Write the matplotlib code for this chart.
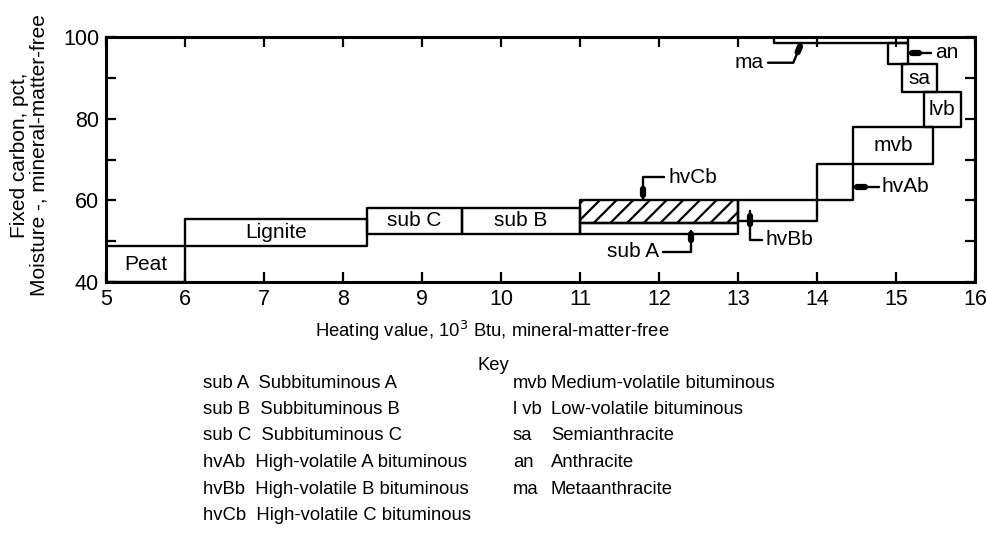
import matplotlib
matplotlib.use('Agg')
import matplotlib.pyplot as plt
from matplotlib.patches import Rectangle

plt.rcParams['font.family'] = ['Liberation Sans', 'DejaVu Sans']
plt.rcParams['hatch.linewidth'] = 1.6

# rank fields: heating value range (10^3 Btu) and fixed carbon range (pct)
rank_names = ['Peat', 'Lignite', 'sub C', 'sub B', 'sub A', 'hvCb', 'hvBb',
              'hvAb', 'mvb', 'lvb', 'sa', 'an', 'ma']
heat_lo = [5.0, 6.0, 8.3, 9.5, 11.0, 11.0, 13.0, 14.0, 14.45, 15.35, 15.08, 14.9, 13.45]
heat_hi = [6.0, 8.3, 9.5, 11.0, 13.0, 13.0, 14.0, 14.45, 15.47, 15.82, 15.52, 15.15, 15.15]
fc_lo = [40.0, 48.8, 51.8, 51.8, 51.8, 54.5, 55.0, 60.0, 68.9, 78.0, 86.6, 93.3, 98.5]
fc_hi = [48.8, 55.4, 58.1, 58.1, 54.5, 60.1, 60.1, 68.9, 78.0, 86.6, 93.3, 98.5, 100.0]
boxed_labels = ['Peat', 'Lignite', 'sub C', 'sub B', 'mvb', 'lvb', 'sa']

# callouts for the fields too small to carry their own label
callout_names = ['ma', 'an', 'hvAb', 'hvBb', 'sub A', 'hvCb']
callout_text_xy = [(13.32, 93.7), (15.5, 96.1), (14.82, 63.3), (13.35, 50.3),
                   (11.67, 47.4), (12.12, 65.7)]
callout_paths = [
    [(13.38, 93.7), (13.7, 93.7), (13.8, 98.4)],
    [(15.44, 96.1), (15.16, 96.1)],
    [(14.78, 63.3), (14.46, 63.3)],
    [(13.3, 50.3), (13.15, 50.3), (13.15, 57.3)],
    [(12.05, 47.4), (12.4, 47.4), (12.4, 52.5)],
    [(12.06, 65.7), (11.8, 65.7), (11.8, 60.4)],
]
callout_ha = ['right', 'left', 'left', 'left', 'center', 'left']

key_left = [('sub A', 'Subbituminous A'), ('sub B', 'Subbituminous B'),
            ('sub C', 'Subbituminous C'), ('hvAb', 'High-volatile A bituminous'),
            ('hvBb', 'High-volatile B bituminous'), ('hvCb', 'High-volatile C bituminous')]
key_right = [('mvb', 'Medium-volatile bituminous'), ('l vb', 'Low-volatile bituminous'),
             ('sa', 'Semianthracite'), ('an', 'Anthracite'), ('ma', 'Metaanthracite')]

W, H = 986, 537
fig = plt.figure(figsize=(W / 100, H / 100), dpi=100)
ax = fig.add_axes([106 / W, 1 - 282 / H, (975 - 106) / W, (282 - 37) / H])

for name, x0, x1, y0, y1 in zip(rank_names, heat_lo, heat_hi, fc_lo, fc_hi):
    hatch = '//' if name == 'hvCb' else None
    ax.add_patch(Rectangle((x0, y0), x1 - x0, y1 - y0, fill=False, ec='black',
                           lw=1.7, hatch=hatch, joinstyle='round'))
    if name in boxed_labels:
        ax.text((x0 + x1) / 2, (y0 + y1) / 2, name, ha='center', va='center',
                fontsize=15)

for name, (tx, ty), path, ha in zip(callout_names, callout_text_xy, callout_paths, callout_ha):
    ax.text(tx, ty, name, ha=ha, va='center', fontsize=15)
    xs = [p[0] for p in path]
    ys = [p[1] for p in path]
    ax.plot(xs, ys, color='black', lw=1.7, solid_capstyle='round')
    # thickened blob on the last segment, like the hand-drawn leaders
    mx = xs[-2] + 0.55 * (xs[-1] - xs[-2])
    my = ys[-2] + 0.55 * (ys[-1] - ys[-2])
    nx = xs[-2] + 0.85 * (xs[-1] - xs[-2])
    ny = ys[-2] + 0.85 * (ys[-1] - ys[-2])
    ax.plot([mx, nx], [my, ny], color='black', lw=4.5, solid_capstyle='round')

ax.set_xlim(5, 16)
ax.set_ylim(40, 100)
ax.set_xticks(range(5, 17))
ax.set_yticks([40, 60, 80, 100])
ax.set_yticks([50, 70, 90], minor=True)
ax.tick_params(which='both', direction='in', top=True, right=True, length=7,
               width=1.6, labelsize=15.5, pad=5)
for s in ax.spines.values():
    s.set_linewidth(2.2)

fig.text(29 / W, 1 - 155 / H, 'Fixed carbon, pct,\nMoisture -, mineral-matter-free',
         rotation=90, ha='center', va='center', fontsize=15, linespacing=1.05,
         multialignment='center')
fig.text(492 / W, 1 - 331 / H, 'Heating value, 10$^3$ Btu, mineral-matter-free',
         ha='center', va='center', fontsize=13.3)
fig.text(493 / W, 1 - 366 / H, 'Key', ha='center', va='center', fontsize=13.3)

row_y = [383, 409.5, 436, 462.5, 489, 515.5]
for i, (ab, desc) in enumerate(key_left):
    fig.text(203 / W, 1 - row_y[i] / H, ab + '  ' + desc, ha='left', va='center',
             fontsize=13.3)
for i, (ab, desc) in enumerate(key_right):
    fig.text(513 / W, 1 - row_y[i] / H, ab, ha='left', va='center', fontsize=13.3)
    fig.text(551 / W, 1 - row_y[i] / H, desc, ha='left', va='center', fontsize=13.3)

fig.savefig('out.png', dpi=100)
